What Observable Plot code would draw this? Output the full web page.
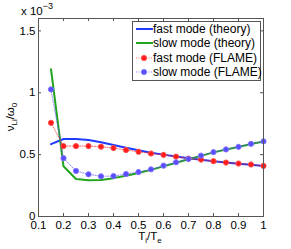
<!DOCTYPE html>
<html><head><meta charset="utf-8">
<script src="https://cdn.jsdelivr.net/npm/d3@7"></script>
<script src="https://cdn.jsdelivr.net/npm/@observablehq/plot@0.6"></script>
<style>
body{margin:0;background:#fff;font-family:"Liberation Sans",Arial,sans-serif;}
#wrap{position:relative;width:291px;height:249px;}
#legend{position:absolute;left:132px;top:21px;width:129px;height:60px;border:1px solid #555;background:#fff;font-size:12px;color:#000;box-sizing:border-box;}
.row{position:absolute;left:0;height:14px;display:flex;align-items:center;white-space:nowrap;}
.row svg{width:18px;height:14px;margin-left:1.5px;margin-right:0.5px;}
</style>
</head><body><div id="wrap"><div id="legend"></div></div>
<script>
const ratio = [0.15,0.2,0.25,0.3,0.35,0.4,0.45,0.5,0.55,0.6,0.65,0.7,0.75,0.8,0.85,0.9,0.95,1.0];
const fastTheory = [0.585,0.626,0.626,0.618,0.600,0.577,0.555,0.535,0.515,0.500,0.485,0.470,0.458,0.446,0.436,0.427,0.418,0.408];
const slowTheory = [1.19,0.406,0.303,0.293,0.295,0.310,0.330,0.352,0.377,0.405,0.435,0.462,0.490,0.518,0.541,0.562,0.586,0.606];
const fastFlame = [0.757,0.569,0.569,0.569,0.564,0.553,0.537,0.523,0.509,0.498,0.484,0.468,0.460,0.447,0.436,0.428,0.420,0.409];
const slowFlame = [1.027,0.471,0.368,0.341,0.325,0.327,0.343,0.359,0.381,0.411,0.438,0.465,0.492,0.520,0.542,0.563,0.587,0.607];
const xTicks = [0.1,0.2,0.3,0.4,0.5,0.6,0.7,0.8,0.9,1];
const yTicks = [0,0.5,1,1.5];
const seriesNames = ["fast mode (theory)","slow mode (theory)","fast mode (FLAME)","slow mode (FLAME)"];

const C = {blue:"#1f3bff", green:"#22a51e", red:"#ff1a1a", violet:"#5a4dff"};
const rows = (ys) => ratio.map((x,i)=>({x, y: ys[i]}));
const dt = 1.6*3/198, dx = 0.9*3/225;

const plot = Plot.plot({
  width: 291, height: 249,
  marginLeft: 38, marginRight: 28, marginTop: 18, marginBottom: 33,
  x: {domain:[0.1,1]},
  y: {domain:[0,1.6]},
  style: {fontFamily:'"Liberation Sans",Arial,sans-serif', fontSize:"11px", color:"#000", background:"#fff"},
  marks: [
    Plot.line(rows(fastTheory), {x:"x", y:"y", stroke:C.blue, strokeWidth:2}),
    Plot.line(rows(slowTheory), {x:"x", y:"y", stroke:C.green, strokeWidth:2}),
    Plot.line(rows(fastFlame), {x:"x", y:"y", stroke:C.red, strokeWidth:1, strokeDasharray:"1,1.5", strokeOpacity:0.7}),
    Plot.line(rows(slowFlame), {x:"x", y:"y", stroke:C.violet, strokeWidth:1, strokeDasharray:"1,1.5", strokeOpacity:0.7}),
    Plot.dot(rows(fastFlame), {x:"x", y:"y", r:2.6, fill:C.red, stroke:"#ff4d4d", strokeWidth:1}),
    Plot.dot(rows(slowFlame), {x:"x", y:"y", r:2.6, fill:C.violet, stroke:"#7f73ff", strokeWidth:1}),
    Plot.ruleX(xTicks, {x:d=>d, y1:0, y2:dt, stroke:"#555"}),
    Plot.ruleX(xTicks, {x:d=>d, y1:1.6, y2:1.6-dt, stroke:"#555"}),
    Plot.ruleY(yTicks, {y:d=>d, x1:0.1, x2:0.1+dx, stroke:"#555"}),
    Plot.ruleY(yTicks, {y:d=>d, x1:1, x2:1-dx, stroke:"#555"}),
    Plot.frame({stroke:"#555"}),
    Plot.axisX(xTicks, {tickSize:0, tickPadding:4, tickFormat:d=>String(d), fontSize:11.5, label:null}),
    Plot.axisY(yTicks, {tickSize:0, tickPadding:3, tickFormat:d=>String(d), fontSize:11.5, label:null})
  ]
});
document.getElementById("wrap").prepend(plot);

const svg = d3.select(plot);
const t1 = svg.append("text").attr("x", 37).attr("y", 15).attr("font-size", 11.5).attr("fill","#000");
t1.append("tspan").text("x 10");
t1.append("tspan").attr("dy", -6).attr("font-size", 9).text("−3");

const xl = svg.append("text").attr("x", 150).attr("y", 239.5).attr("text-anchor","middle").attr("font-size", 11.5).attr("fill","#000");
xl.append("tspan").text("T");
xl.append("tspan").attr("dy",3).attr("font-size",8).text("i");
xl.append("tspan").attr("dy",-3).text("/T");
xl.append("tspan").attr("dy",3).attr("font-size",8).text("e");

const yl = svg.append("text").attr("transform","translate(14,117) rotate(-90)").attr("text-anchor","middle").attr("font-size", 11.5).attr("fill","#000");
yl.append("tspan").text("ν");
yl.append("tspan").attr("dy",3).attr("font-size",8).text("Li");
yl.append("tspan").attr("dy",-3).text("/ω");
yl.append("tspan").attr("dy",3).attr("font-size",8).text("0");

const styles = [
  {c:C.blue, w:2, dot:false},
  {c:C.green, w:2, dot:false},
  {c:C.red, w:1, dot:true, s:"#ff4d4d"},
  {c:C.violet, w:1, dot:true, s:"#7f73ff"}
];
const leg = document.getElementById("legend");
seriesNames.forEach((n,i)=>{
  const st = styles[i];
  const r = document.createElement("div");
  r.className = "row";
  r.style.top = (-0.5 + i*14.5) + "px";
  const line = st.dot
    ? `<line x1="1" x2="17" y1="7" y2="7" stroke="${st.c}" stroke-width="1" stroke-dasharray="1,1.5" stroke-opacity="0.7"/><circle cx="9" cy="7" r="2.6" fill="${st.c}" stroke="${st.s}"/>`
    : `<line x1="1" x2="18" y1="7" y2="7" stroke="${st.c}" stroke-width="2"/>`;
  r.innerHTML = `<svg viewBox="0 0 18 14">${line}</svg><span>${n}</span>`;
  leg.appendChild(r);
});
</script>
</body></html>
